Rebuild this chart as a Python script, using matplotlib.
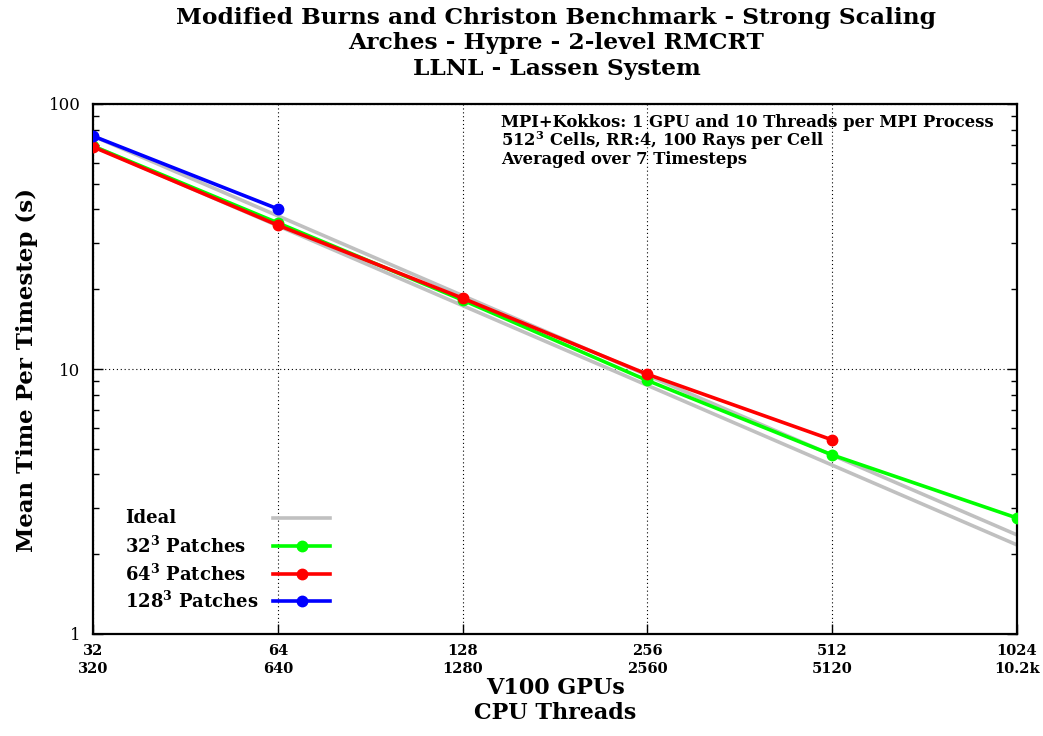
import matplotlib
matplotlib.use("Agg")
import matplotlib.pyplot as plt
from matplotlib.ticker import FixedLocator, NullFormatter, LogLocator

plt.rcParams['font.family'] = ['DejaVu Serif']
plt.rcParams['mathtext.fontset'] = 'dejavuserif'

gpus = [32, 64, 128, 256, 512, 1024]
threads_labels = ["320", "640", "1280", "2560", "5120", "10.2k"]

ideal_a_start = 75.7
ideal_b_start = 69.4

p32_x = [32, 64, 128, 256, 512, 1024]
p32_y = [69.4, 35.6, 18.2, 9.05, 4.74, 2.74]
p64_x = [32, 64, 128, 256, 512]
p64_y = [68.9, 34.9, 18.5, 9.55, 5.40]
p128_x = [32, 64]
p128_y = [75.7, 40.2]

fig = plt.figure(figsize=(10.43, 7.36), dpi=100)
ax = fig.add_axes([93/1043, 1-634/736, (1017-93)/1043, (634-104)/736])

ideal_y_a = [ideal_a_start * gpus[0] / g for g in gpus]
ideal_y_b = [ideal_b_start * gpus[0] / g for g in gpus]
grey = '#c0c0c0'
lw = 2.6
ms = 7.5
ax.plot(gpus, ideal_y_a, color=grey, lw=lw, zorder=2)
ax.plot(gpus, ideal_y_b, color=grey, lw=lw, zorder=2)
ax.plot(p32_x, p32_y, color='#00ff00', lw=lw, marker='o', ms=ms, zorder=3)
ax.plot(p64_x, p64_y, color='#ff0000', lw=lw, marker='o', ms=ms, zorder=4)
ax.plot(p128_x, p128_y, color='#0000ff', lw=lw, marker='o', ms=ms, zorder=5)

ax.set_xscale('log')
ax.set_yscale('log')
ax.set_xlim(32, 1024)
ax.set_ylim(1, 100)

ax.xaxis.set_major_locator(FixedLocator(gpus))
ax.xaxis.set_minor_locator(FixedLocator([]))
ax.set_xticklabels([f"{g}\n{t}" for g, t in zip(gpus, threads_labels)],
                   fontweight='bold', fontsize=10.5, linespacing=1.4)
ax.yaxis.set_major_locator(FixedLocator([1, 10, 100]))
ax.yaxis.set_minor_locator(LogLocator(base=10, subs=range(2, 10)))
ax.yaxis.set_minor_formatter(NullFormatter())
ax.set_yticklabels(["1", "10", "100"], fontsize=12)

ax.tick_params(axis='both', which='major', direction='in', length=7, width=1.0,
               right=True, top=False)
ax.tick_params(axis='y', which='minor', direction='in', length=4, width=1.0,
               right=True)
ax.tick_params(axis='x', pad=7)
ax.tick_params(axis='y', pad=9)

ax.grid(True, which='major', axis='both', color='black', linestyle=(0, (1, 2.5)), lw=0.8)
for s in ax.spines.values():
    s.set_linewidth(1.6)

fig.text(0.5335, 1-7/736, "Modified Burns and Christon Benchmark - Strong Scaling\nArches - Hypre - 2-level RMCRT\nLLNL - Lassen System",
         ha='center', va='top', fontsize=16.8, fontweight='bold', linespacing=1.2)
fig.text(27/1043, 1-370/736, "Mean Time Per Timestep (s)", rotation=90,
         ha='center', va='center', fontsize=16.5, fontweight='bold')
fig.text(555/1043, 1-677/736, "V100 GPUs\nCPU Threads", ha='center', va='top',
         fontsize=16, fontweight='bold', linespacing=1.15)

ax.text(0.442, 0.982, "MPI+Kokkos: 1 GPU and 10 Threads per MPI Process\n"
        r"512$^{\mathbf{3}}$ Cells, RR:4, 100 Rays per Cell" "\n"
        "Averaged over 7 Timesteps",
        transform=ax.transAxes, ha='left', va='top', fontsize=11.8,
        fontweight='bold', linespacing=0.93)

# legend (gnuplot style: text left, sample right)
leg_labels = ["Ideal", r"32$^{\mathbf{3}}$ Patches", r"64$^{\mathbf{3}}$ Patches", r"128$^{\mathbf{3}}$ Patches"]
leg_colors = [grey, '#00ff00', '#ff0000', '#0000ff']
leg_marker = [None, 'o', 'o', 'o']
x_text = (125 - 93) / 924
x_l0 = (273 - 93) / 924
x_l1 = (330 - 93) / 924
y_rows_px = [518, 546, 574, 601]
for lab, col, mk, ypx in zip(leg_labels, leg_colors, leg_marker, y_rows_px):
    ya = (634 - ypx) / 530
    ax.text(x_text, ya, lab, transform=ax.transAxes, ha='left', va='center',
            fontsize=13, fontweight='bold')
    ax.plot([x_l0, x_l1], [ya, ya], transform=ax.transAxes, color=col, lw=lw,
            clip_on=False, zorder=6)
    if mk:
        ax.plot([(x_l0 + x_l1) / 2], [ya], transform=ax.transAxes, color=col,
                marker=mk, ms=ms, clip_on=False, zorder=6)

fig.savefig("out.png", dpi=100)
